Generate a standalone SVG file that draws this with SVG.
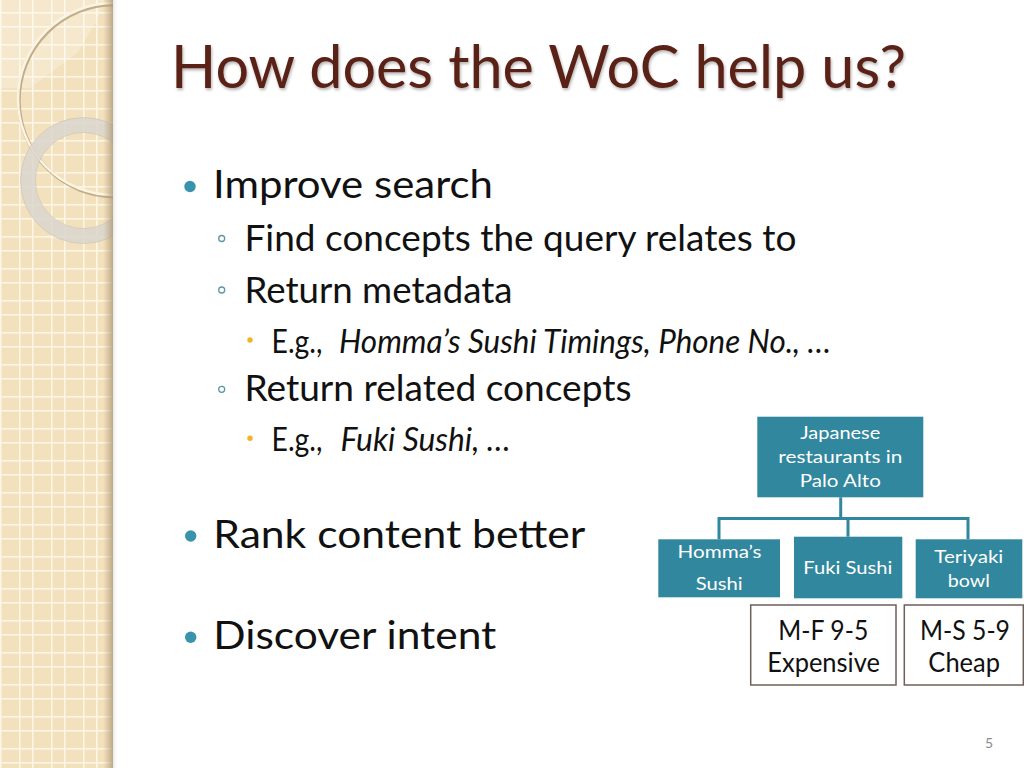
<svg xmlns="http://www.w3.org/2000/svg" width="1024" height="768" viewBox="0 0 1024 768">
  <defs>
    <pattern id="grid" x="19" y="26" width="32" height="32" patternUnits="userSpaceOnUse">
      <rect width="32" height="32" fill="#f3e1bd"/>
      <rect x="0" y="0" width="1.6" height="32" fill="#fcf6e6"/>
      <rect x="13" y="0" width="1.6" height="32" fill="#fcf6e6"/>
      <rect x="0" y="0" width="32" height="1.6" fill="#fcf6e6"/>
      <rect x="0" y="18" width="32" height="1.6" fill="#fcf6e6"/>
    </pattern>
    <linearGradient id="edge" x1="0" y1="0" x2="1" y2="0">
      <stop offset="0" stop-color="#b9a27a" stop-opacity="0"/>
      <stop offset="1" stop-color="#a89372" stop-opacity="0.75"/>
    </linearGradient>
    <linearGradient id="outer" x1="0" y1="0" x2="1" y2="0">
      <stop offset="0" stop-color="#d8d8d8" stop-opacity="0.6"/>
      <stop offset="1" stop-color="#ffffff" stop-opacity="0"/>
    </linearGradient>
    <clipPath id="stripClip">
      <rect x="0" y="0" width="113" height="768"/>
    </clipPath>
    <filter id="tshadow" x="-5%" y="-20%" width="110%" height="150%">
      <feDropShadow dx="1" dy="2" stdDeviation="1.5" flood-color="#000" flood-opacity="0.3"/>
    </filter>
  </defs>
  <style>
    .title { font-family: Lato, "Liberation Sans", sans-serif; font-size: 60px; fill: #5a2018; }
    .l1 { font-family: Lato, "Liberation Sans", sans-serif; font-size: 39px; fill: #111; }
    .l2 { font-family: Lato, "Liberation Sans", sans-serif; font-size: 36px; fill: #111; }
    .l3 { font-family: Lato, "Liberation Sans", sans-serif; font-size: 33px; fill: #111; }
    .it { font-style: italic; }
    .b1 { fill: #3a93ad; }
    .b2 { fill: none; stroke: #5b97a8; stroke-width: 1.3; }
    .b3 { fill: #f4b322; }
    .tbox { fill: #31879d; }
    .tlabel { font-family: Lato, "Liberation Sans", sans-serif; font-size: 18px; fill: #ffffff; text-anchor: middle; }
    .wbox { fill: #ffffff; stroke: #6f5f5a; stroke-width: 1.5; }
    .wlabel { font-family: Lato, "Liberation Sans", sans-serif; font-size: 27px; fill: #111; text-anchor: middle; }
    .conn { fill: none; stroke: #31879d; stroke-width: 3; }
    .pnum { font-family: Lato, "Liberation Sans", sans-serif; font-size: 14px; fill: #8c8c8c; text-anchor: middle; }
  </style>

  <rect width="1024" height="768" fill="#ffffff"/>

  <!-- decorative left strip -->
  <g id="strip">
    <rect x="113" y="0" width="6" height="768" fill="url(#outer)"/>
    <rect x="0" y="0" width="113" height="768" fill="url(#grid)"/>
    <g clip-path="url(#stripClip)">
      <polygon points="0,0 104,0 96,22 78,52 30,88 0,88" fill="#ffffff" opacity="0.25"/>
      <circle cx="115" cy="100.5" r="96" fill="none" stroke="#b59e78" stroke-width="3.5" opacity="0.8"/>
      <circle cx="114" cy="99" r="96" fill="none" stroke="#fbf4e2" stroke-width="2.5"/>
      <circle cx="83.5" cy="180.5" r="55.5" fill="none" stroke="#d9d6cf" stroke-width="15" opacity="0.85"/>
      <circle cx="83.5" cy="180.5" r="63" fill="none" stroke="#c7c0b2" stroke-width="0.8" opacity="0.7"/>
      <circle cx="83.5" cy="180.5" r="48" fill="none" stroke="#c7c0b2" stroke-width="0.8" opacity="0.7"/>
      <rect x="103" y="0" width="10" height="768" fill="url(#edge)"/>
    </g>
  </g>

  <!-- title -->
  <text class="title" x="171" y="88" textLength="735" lengthAdjust="spacingAndGlyphs" filter="url(#tshadow)">How does the WoC help us?</text>

  <!-- bullets -->
  <g id="bullets">
    <circle class="b1" cx="190" cy="186.5" r="5.7"/>
    <text class="l1" x="213" y="198" textLength="280" lengthAdjust="spacingAndGlyphs">Improve search</text>

    <circle class="b2" cx="221.7" cy="238.5" r="3"/>
    <text class="l2" x="244.5" y="250.5" textLength="552" lengthAdjust="spacingAndGlyphs">Find concepts the query relates to</text>

    <circle class="b2" cx="221.7" cy="290" r="3"/>
    <text class="l2" x="244.5" y="302.5" textLength="268" lengthAdjust="spacingAndGlyphs">Return metadata</text>

    <circle class="b3" cx="250" cy="340" r="2.7"/>
    <text class="l3" x="271.5" y="352.5" textLength="51" lengthAdjust="spacingAndGlyphs">E.g.,</text>
    <text class="l3 it" x="339" y="352.5" textLength="492" lengthAdjust="spacingAndGlyphs">Homma’s Sushi Timings, Phone No., …</text>

    <circle class="b2" cx="221.7" cy="389.3" r="3"/>
    <text class="l2" x="244.5" y="400.5" textLength="387" lengthAdjust="spacingAndGlyphs">Return related concepts</text>

    <circle class="b3" cx="250" cy="438.3" r="2.7"/>
    <text class="l3" x="271.5" y="450.5" textLength="51" lengthAdjust="spacingAndGlyphs">E.g.,</text>
    <text class="l3 it" x="340.5" y="450.5" textLength="170" lengthAdjust="spacingAndGlyphs">Fuki Sushi, …</text>

    <circle class="b1" cx="190.7" cy="536" r="5.7"/>
    <text class="l1" x="213.3" y="548" textLength="372" lengthAdjust="spacingAndGlyphs">Rank content better</text>

    <circle class="b1" cx="190.7" cy="637.3" r="5.7"/>
    <text class="l1" x="213.3" y="649" textLength="283" lengthAdjust="spacingAndGlyphs">Discover intent</text>
  </g>

  <!-- connectors -->
  <g id="connectors">
    <path class="conn" d="M840.7,497.3 V518.5"/>
    <path class="conn" d="M719,539.3 V518.5 H968 V539.3"/>
    <path class="conn" d="M848,518.5 V536.7"/>
  </g>

  <!-- tree nodes -->
  <g id="node-root">
    <rect class="tbox" x="757.3" y="416.7" width="166" height="80.6"/>
    <text class="tlabel" x="840.3" y="439.3" textLength="80" lengthAdjust="spacingAndGlyphs">Japanese</text>
    <text class="tlabel" x="840.3" y="463.3" textLength="124" lengthAdjust="spacingAndGlyphs">restaurants in</text>
    <text class="tlabel" x="840.3" y="486.7" textLength="81" lengthAdjust="spacingAndGlyphs">Palo Alto</text>
  </g>
  <g id="node-homma">
    <rect class="tbox" x="658.3" y="539.3" width="121.7" height="58"/>
    <text class="tlabel" x="719.5" y="558.3" textLength="84" lengthAdjust="spacingAndGlyphs">Homma’s</text>
    <text class="tlabel" x="719.2" y="590" textLength="47" lengthAdjust="spacingAndGlyphs">Sushi</text>
  </g>
  <g id="node-fuki">
    <rect class="tbox" x="794" y="536.7" width="108.3" height="61.6"/>
    <text class="tlabel" x="847.8" y="574" textLength="89" lengthAdjust="spacingAndGlyphs">Fuki Sushi</text>
  </g>
  <g id="node-teriyaki">
    <rect class="tbox" x="915.7" y="539.3" width="106.6" height="59"/>
    <text class="tlabel" x="968.8" y="563.3" textLength="69" lengthAdjust="spacingAndGlyphs">Teriyaki</text>
    <text class="tlabel" x="968.8" y="586.7" textLength="42" lengthAdjust="spacingAndGlyphs">bowl</text>
  </g>
  <g id="node-fuki-meta">
    <rect class="wbox" x="750.7" y="605" width="145.3" height="80"/>
    <text class="wlabel" x="823.3" y="640" textLength="90" lengthAdjust="spacingAndGlyphs">M-F 9-5</text>
    <text class="wlabel" x="823.6" y="671.7" textLength="112.7" lengthAdjust="spacingAndGlyphs">Expensive</text>
  </g>
  <g id="node-teriyaki-meta">
    <rect class="wbox" x="904.3" y="605" width="119" height="80"/>
    <text class="wlabel" x="965" y="640" textLength="90" lengthAdjust="spacingAndGlyphs">M-S 5-9</text>
    <text class="wlabel" x="964.2" y="671.7" textLength="71.7" lengthAdjust="spacingAndGlyphs">Cheap</text>
  </g>

  <!-- page number -->
  <text class="pnum" x="989" y="748">5</text>
</svg>
